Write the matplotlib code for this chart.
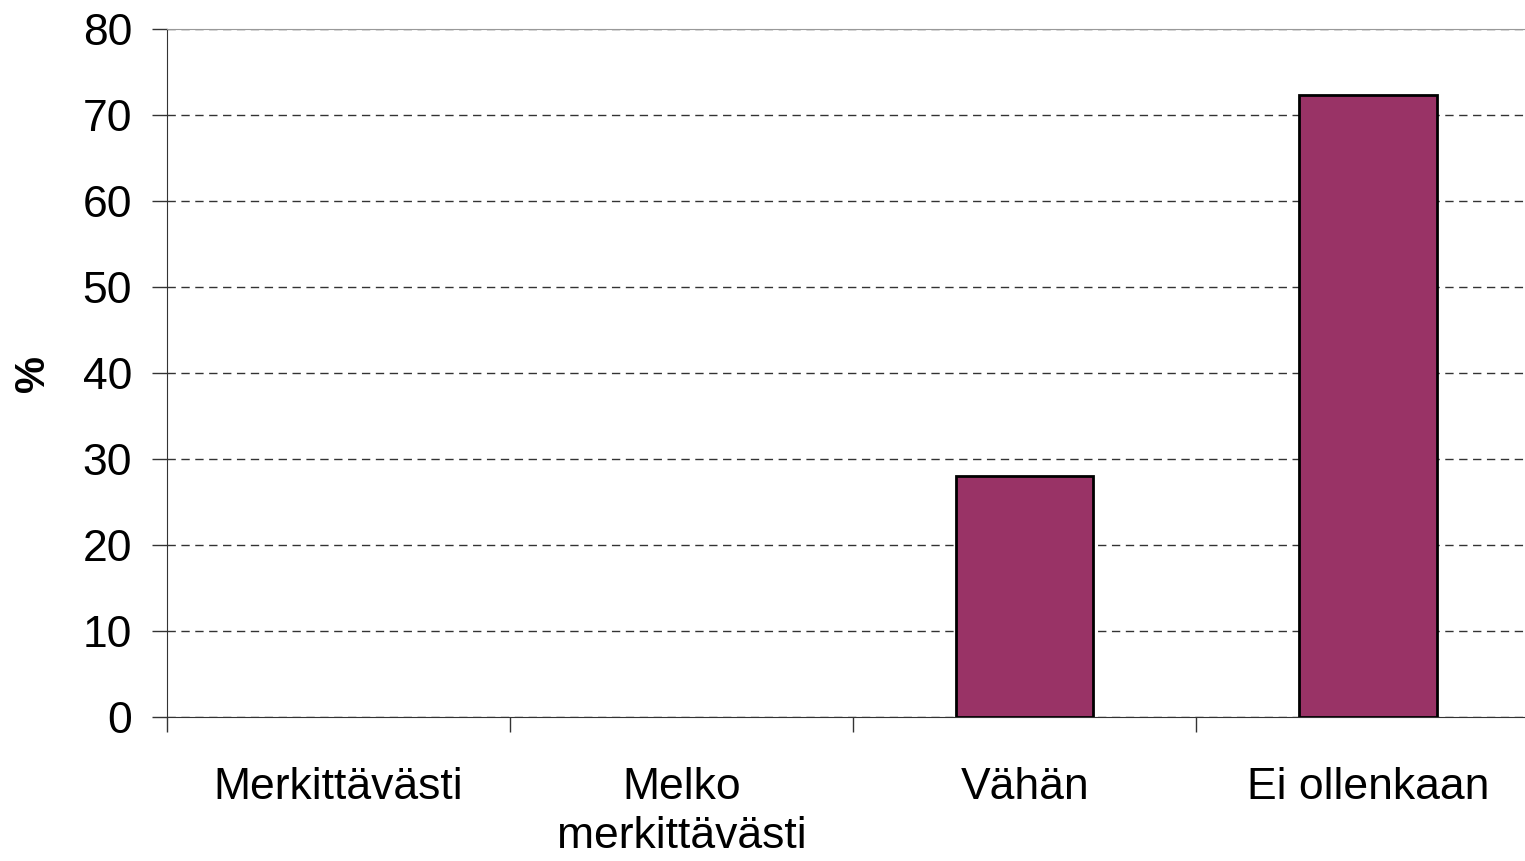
import numpy as np
import matplotlib.pyplot as plt

plt.rcParams["font.family"] = ["Liberation Sans", "DejaVu Sans"]

categories = ["Merkittävästi", "Melko\nmerkittävästi", "Vähän", "Ei ollenkaan"]
values = [0, 0, 28, 72.3]
y_ticks = [0, 10, 20, 30, 40, 50, 60, 70, 80]

fig = plt.figure(figsize=(15.25, 8.61), dpi=100)
ax = fig.add_axes([0.1095, 0.1672, 0.9, 0.7991])

x = np.arange(len(categories))
edges = ["black" if v > 0 else "none" for v in values]
ax.bar(x, values, width=0.4, color="#993366", edgecolor=edges, linewidth=2, zorder=3)

ax.set_xlim(-0.5, len(categories) - 0.5)
ax.set_ylim(0, 80)
ax.set_yticks(y_ticks)
ax.yaxis.grid(True, linestyle=(0, (6, 4)), color="#333333", linewidth=1)
ax.set_axisbelow(True)

# category labels between boundary ticks
ax.set_xticks(x)
ax.set_xticklabels(categories, fontsize=32, linespacing=1.25)
ax.tick_params(axis="x", which="major", length=0, pad=36)
ax.set_xticks(np.arange(-0.5, len(categories)), minor=True)
ax.tick_params(axis="x", which="minor", length=11, width=1, color="#333333")

ax.tick_params(axis="y", length=11, width=1, labelsize=32, pad=14, color="#333333")
ax.set_ylabel("%", fontsize=30, fontweight="bold")
ax.yaxis.set_label_coords(-0.083, 0.5)

ax.spines["left"].set_color("#333333")
ax.spines["bottom"].set_color("#333333")
ax.spines["top"].set_color("#999999")
ax.spines["right"].set_visible(False)

fig.savefig("out.png", dpi=100)
